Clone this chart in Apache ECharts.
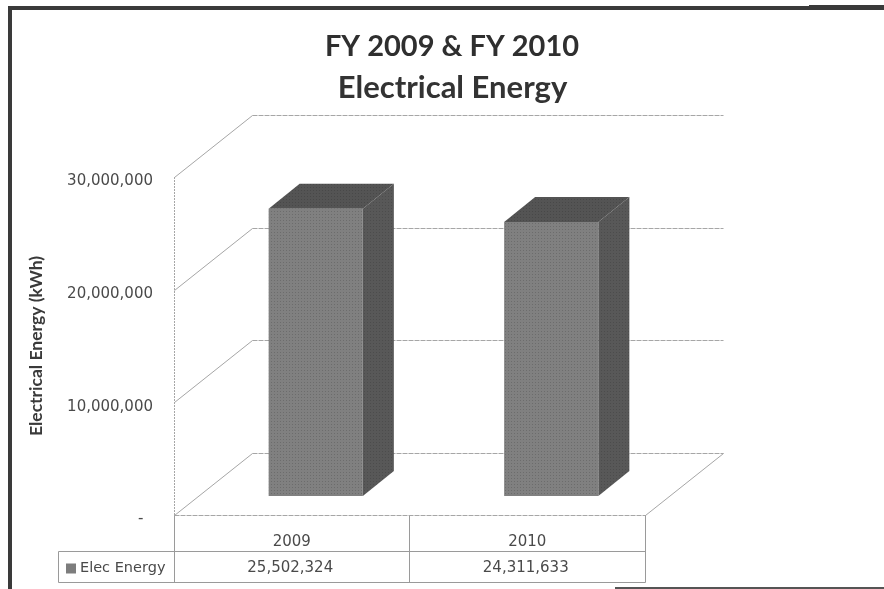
<!DOCTYPE html>
<html>
<head>
<meta charset="utf-8">
<style>html,body{margin:0;padding:0;background:#fff}#c{width:884px;height:589px}</style>
<script src="https://cdn.jsdelivr.net/npm/echarts@6/dist/echarts.min.js"></script>
</head>
<body>
<div id="c"></div>
<script>
var categories = ['2009', '2010'];
var elecEnergy = [25502324, 24311633];
var yTicks = [0, 10000000, 20000000, 30000000];
var seriesName = 'Elec Energy';
var titleLine1 = 'FY 2009 & FY 2010';
var titleLine2 = 'Electrical Energy';
var yName = 'Electrical Energy (kWh)';

var chart = echarts.init(document.getElementById('c'), null, {renderer: 'canvas'});
var FONT = 'Lato, "Open Sans", sans-serif';
var NUM = '"DejaVu Sans", sans-serif';
var GRID = '#a6a6a6', TABLE = '#9a9a9a', TXT = '#4a4a4a';
var WALL_DX = 78, WALL_DY = -62;
var BAR_DX = 24, BAR_DY = -19, DEPTH_X = 31, DEPTH_Y = -25;

function fmt(v) { return String(v).replace(/\B(?=(\d{3})+(?!\d))/g, ','); }
function line(x1, y1, x2, y2, color, w, dash) {
  return {type: 'line', shape: {x1: x1, y1: y1, x2: x2, y2: y2}, silent: true,
    style: {stroke: color, lineWidth: w || 1, lineDash: dash || null}};
}
function rect(x, y, w, h, color) {
  return {type: 'rect', shape: {x: x, y: y, width: w, height: h}, silent: true, style: {fill: color}};
}
function screen(base, dot) {
  var c = document.createElement('canvas');
  c.width = 3; c.height = 3;
  var g = c.getContext('2d');
  g.fillStyle = base; g.fillRect(0, 0, 3, 3);
  g.fillStyle = dot; g.fillRect(1, 1, 1, 1);
  return {image: c, repeat: 'repeat'};
}
var FRONT = screen('#808080', '#6c6c6c');
var SIDE = screen('#585858', '#4c4c4c');
var TOP = screen('#545454', '#484848');

chart.setOption({
  animation: false,
  backgroundColor: '#ffffff',
  title: [
    {text: titleLine1, left: 447, top: 27, textAlign: 'center',
      textStyle: {fontFamily: FONT, fontWeight: 'bold', fontSize: 29, color: '#2f2f2f'}},
    {text: titleLine2, left: 447.5, top: 67, textAlign: 'center',
      textStyle: {fontFamily: FONT, fontWeight: 'bold', fontSize: 31, color: '#333333'}}
  ],
  legend: {
    data: [seriesName], left: 66, top: 561, orient: 'horizontal', icon: 'rect',
    itemWidth: 10, itemHeight: 10, itemGap: 4, padding: 0, selectedMode: false,
    textStyle: {fontFamily: NUM, fontSize: 14.5, color: TXT, padding: [0, 0, 0, -1]}
  },
  grid: {left: 174, top: 177, width: 471, height: 338, containLabel: false},
  xAxis: {
    type: 'category', data: categories,
    axisLine: {show: false}, axisTick: {show: false}, splitLine: {show: false},
    axisLabel: {fontFamily: NUM, fontSize: 15, color: TXT, margin: 20}
  },
  yAxis: {
    type: 'value', min: 0, max: 30000000, interval: 10000000,
    name: yName, nameLocation: 'middle', nameGap: 129, nameRotate: 90,
    nameTextStyle: {fontFamily: FONT, fontWeight: 'bold', fontSize: 17.5, color: '#3a3a3a'},
    axisLine: {show: false}, axisTick: {show: false}, splitLine: {show: false},
    axisLabel: {
      fontFamily: NUM, fontSize: 15, color: TXT, margin: 21, verticalAlign: 'top', lineHeight: 9,
      formatter: function (v) { return v === 0 ? '-  ' : fmt(v); }
    }
  },
  graphic: [
    {type: 'group', silent: true, children: [
      rect(8, 6, 876, 4, '#3a3a3a'),
      rect(809, 5, 75, 5, '#3a3a3a'),
      rect(8, 6, 4, 583, '#3a3a3a'),
      rect(615, 587, 269, 2, '#555555'),
      line(58.5, 551.5, 645.5, 551.5, TABLE),
      line(58.5, 582.5, 645.5, 582.5, TABLE),
      line(58.5, 551.5, 58.5, 582.5, TABLE),
      line(174.5, 515, 174.5, 582.5, TABLE),
      line(409.5, 515, 409.5, 582.5, TABLE),
      line(645.5, 515, 645.5, 582.5, TABLE)
    ]}
  ],
  series: [
    {
      type: 'custom', name: 'walls', silent: true, clip: false, z: 1,
      data: yTicks.map(function (t) { return [0, t]; }),
      renderItem: function (params, api) {
        var cs = params.coordSys;
        var p = api.coord([0, api.value(1)]);
        var y = Math.round(p[1]) + 0.5;
        var xL = cs.x + 0.5, xR = cs.x + cs.width + 0.5;
        var ch = [
          line(xL, y, xL + WALL_DX, y + WALL_DY, GRID),
          line(xL + WALL_DX, y + WALL_DY, xR + WALL_DX, y + WALL_DY, GRID, 1, [5, 1])
        ];
        if (api.value(1) === 0) {
          ch.push(line(xL, y, xR, y, GRID, 1, [5, 1]));
          ch.push(line(xR, y, xR + WALL_DX, y + WALL_DY, GRID));
          ch.push(line(xL, cs.y, xL, y, GRID, 1, [2, 1]));
        }
        return {type: 'group', children: ch};
      }
    },
    {
      type: 'custom', name: seriesName, clip: false, z: 3,
      itemStyle: {color: '#7d7d7d'},
      encode: {x: 0, y: 1},
      data: elecEnergy.map(function (v, i) { return [i, v]; }),
      renderItem: function (params, api) {
        var top = api.coord([api.value(0), api.value(1)]);
        var bot = api.coord([api.value(0), 0]);
        var w = api.size([1, 0])[0] * 0.4;
        var x0 = top[0] + BAR_DX - w / 2, x1 = x0 + w;
        var y0 = top[1] + BAR_DY, y1 = bot[1] + BAR_DY;
        return {type: 'group', children: [
          {type: 'polygon', shape: {points: [[x0, y0], [x1, y0], [x1 + DEPTH_X, y0 + DEPTH_Y], [x0 + DEPTH_X, y0 + DEPTH_Y]]}, style: {fill: TOP}},
          {type: 'polygon', shape: {points: [[x1, y0], [x1 + DEPTH_X, y0 + DEPTH_Y], [x1 + DEPTH_X, y1 + DEPTH_Y], [x1, y1]]}, style: {fill: SIDE}},
          {type: 'rect', shape: {x: x0, y: y0, width: w, height: y1 - y0}, style: {fill: FRONT}}
        ]};
      }
    },
    {
      type: 'custom', name: 'table', silent: true, clip: false, z: 4,
      data: elecEnergy.map(function (v, i) { return [i, v]; }),
      renderItem: function (params, api) {
        var p = api.coord([api.value(0), 0]);
        return {type: 'text', x: p[0] - 1.5, y: 568, silent: true, style: {
          text: fmt(api.value(1)), fill: TXT, fontFamily: NUM, fontSize: 15,
          align: 'center', verticalAlign: 'middle'
        }};
      }
    }
  ]
});
</script>
</body>
</html>
